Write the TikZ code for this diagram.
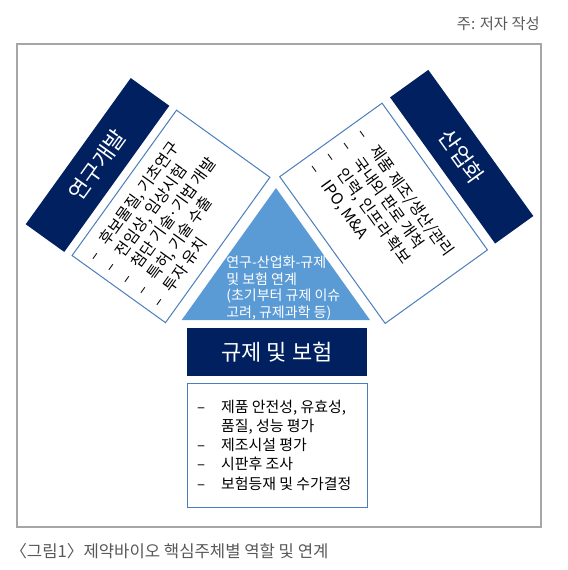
\documentclass[tikz,border=0pt]{standalone}
\usepackage{fontspec}
\setmainfont{Noto Sans CJK KR}
\usetikzlibrary{positioning,calc}
\definecolor{navy}{HTML}{002060}
\definecolor{tribl}{HTML}{5B9BD5}
\definecolor{edgebl}{HTML}{4A7EBB}
\definecolor{framegr}{HTML}{A6A6A6}
\definecolor{notegr}{HTML}{595959}

\begin{document}
\begin{tikzpicture}
  [x=0.75pt,y=-0.75pt,
   roleN/.style={fill=navy,text=white,inner sep=0pt,font=\fontsize{16.5}{19}\selectfont},
   listN/.style={draw=edgebl,line width=0.75pt,fill=white,inner sep=0pt},
   itemT/.style={align=left,inner ysep=0pt,font=\fontsize{11.8}{14.8}\selectfont},
   noteT/.style={text=notegr,inner sep=0pt,font=\fontsize{11.5}{14}\selectfont}]

  \useasboundingbox (0,0) rectangle (567,570);
  \draw [framegr,line width=1.1pt] (17,44) rectangle (541,527);

  \node at (540,24)  [noteT,anchor=east] (note) {주: 저자 작성};
  \node at (10,551)  [noteT,anchor=west,font=\fontsize{12.5}{15}\selectfont] (caption)
    {〈그림1〉제약바이오 핵심주체별 역할 및 연계};

  \node at (171,216.4) [listN,rotate=54.3,minimum width=134.25pt,minimum height=86.25pt] (rndbox) {};
  \node at (97.5,165)  [roleN,rotate=54.3,minimum width=135pt,minimum height=35.6pt]  (rnd)    {연구개발};
  \node at (rndbox.west) [itemT,rotate=54.3,anchor=west,inner xsep=7pt] (rndlist)
    {\makebox[14pt][l]{–}후보물질, 기초연구\\
     \makebox[14pt][l]{–}전임상, 임상시험\\
     \makebox[14pt][l]{–}첨단 기술·기법 개발\\
     \makebox[14pt][l]{–}특허, 기술 수출\\
     \makebox[14pt][l]{–}투자 유치};

  \node at (383.6,213.3) [listN,rotate=-54.3,minimum width=135.5pt,minimum height=94.5pt] (indbox) {};
  \node at (461.7,156.7) [roleN,rotate=-54.3,minimum width=135pt,minimum height=35.3pt]  (ind)    {산업화};
  \node at (indbox.west) [itemT,rotate=-54.3,anchor=west,inner xsep=7.5pt] (indlist)
    {\makebox[16pt][l]{–}제품 제조/생산/관리\\
     \makebox[16pt][l]{–}국내외 판로 개척\\
     \makebox[16pt][l]{–}인력, 인프라 확보\\
     \makebox[16pt][l]{–}IPO, M\&A};

  \coordinate (apex)  at (276,188);
  \coordinate (baseL) at (181.7,320);
  \coordinate (baseR) at (370,320);
  \fill [tribl] (apex) -- (baseR) -- (baseL) -- cycle;
  \node at (226,256) [anchor=north west,text=white,align=left,inner sep=0pt,
    font=\fontsize{10.5}{12.4}\selectfont] (link)
    {연구-산업화-규제\\및 보험 연계\\(초기부터 규제 이슈\\고려, 규제과학 등)};

  \node at (277,352.2) [roleN,minimum width=135.5pt,minimum height=35.8pt] (reg) {규제 및 보험};
  \node at (277.3,445.3) [listN,minimum width=135pt,minimum height=93pt] (regbox) {};
  \node at (regbox.west) [itemT,anchor=west,inner xsep=7.5pt,
    font=\fontsize{11.2}{14.3}\selectfont] (reglist)
    {\makebox[18pt][l]{–}제품 안전성, 유효성,\\
     \makebox[18pt][l]{}품질, 성능 평가\\
     \makebox[18pt][l]{–}제조시설 평가\\
     \makebox[18pt][l]{–}시판후 조사\\
     \makebox[18pt][l]{–}보험등재 및 수가결정};
\end{tikzpicture}
\end{document}
